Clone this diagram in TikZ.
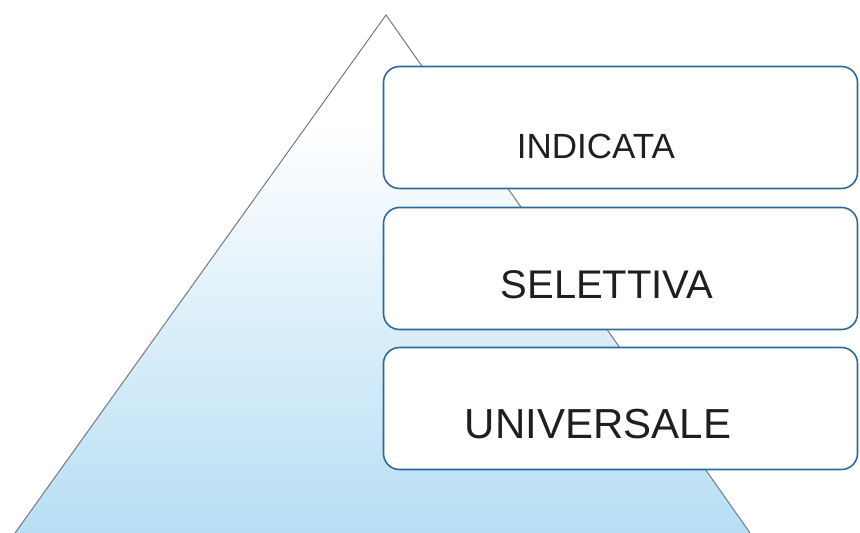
\documentclass[tikz,border=0pt]{standalone}
\usepackage{fontspec}
\setmainfont{Liberation Sans}
\definecolor{boxline}{RGB}{45,105,155}
\definecolor{triline}{RGB}{120,120,125}
\definecolor{skyblue}{RGB}{182,222,244}
\begin{document}
\begin{tikzpicture}[x=1pt,y=-1pt,
  levelbox/.style={draw=boxline,line width=1.6pt,fill=white,rounded corners=16pt,
    minimum width=474pt,minimum height=122pt,inner sep=0pt},
  leveltext/.style={anchor=base,inner sep=0pt,text=black!88}]
\useasboundingbox (0,0) rectangle (860,533);
\clip (0,0) rectangle (860,533);
\coordinate (apex) at (386,15);
\coordinate (bl) at (10,540);
\coordinate (br) at (755,540);
% gradient fill of pyramid
\begin{scope}
  \clip (apex) -- (bl) -- (br) -- cycle;
  \fill[white] (0,0) rectangle (860,120);
  \shade[top color=white,bottom color=skyblue] (0,120) rectangle (860,541);
\end{scope}
\draw[triline,line width=1pt] (bl) -- (apex) -- (br);
% boxes
\node[levelbox] (b1) at (620.5,127.5) {};
\node[levelbox] (b2) at (620.5,268.5) {};
\node[levelbox] (b3) at (620.5,408.5) {};
\node[leveltext,font=\fontsize{35}{40}\selectfont] (t1) at (596,158) {INDICATA};
\node[leveltext,font=\fontsize{40}{46}\selectfont] (t2) at (607,298) {SELETTIVA};
\node[leveltext,font=\fontsize{42}{48}\selectfont] (t3) at (598,438) {UNIVERSALE};
\end{tikzpicture}
\end{document}
